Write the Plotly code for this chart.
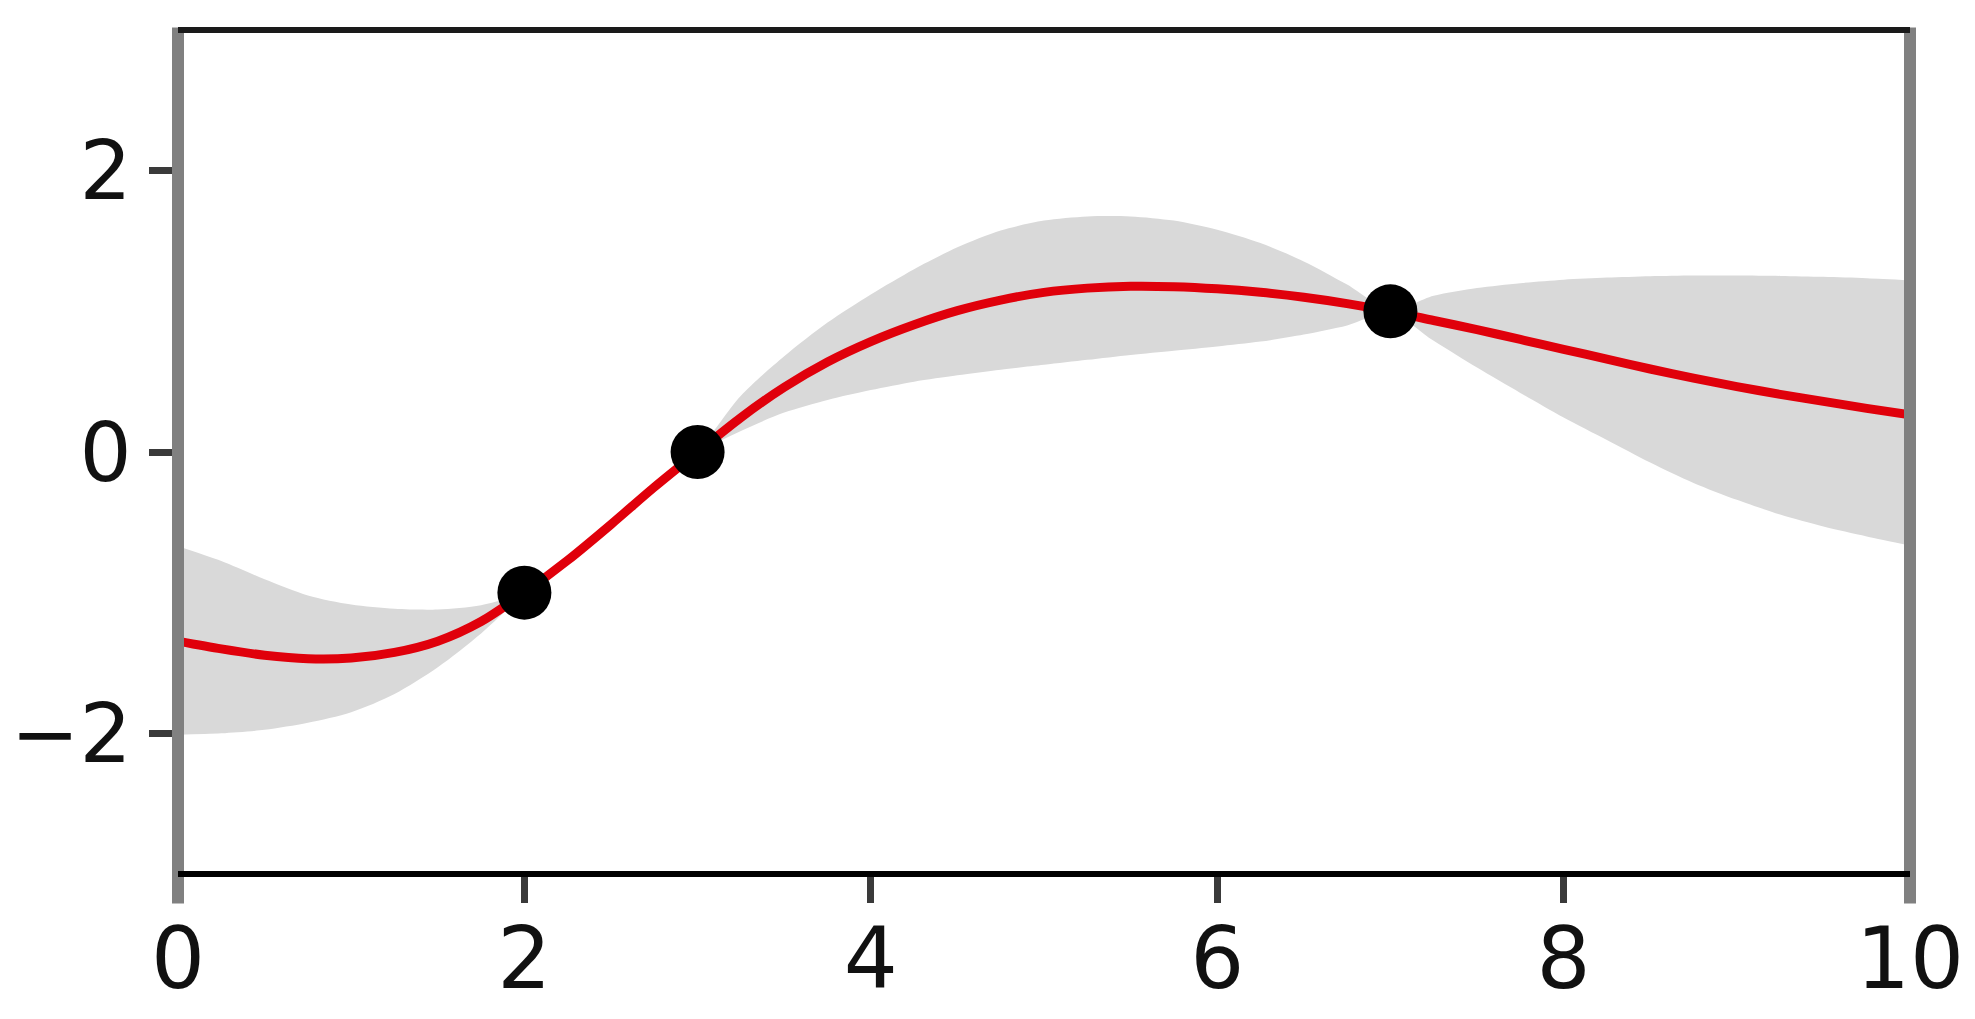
import plotly.graph_objects as go

# Values
x_grid = [0.0, 0.25, 0.5, 0.75, 1.0, 1.25, 1.5, 1.75, 2.0, 2.25, 2.5, 2.75, 3.0, 3.25, 3.5, 3.75,
          4.0, 4.25, 4.5, 4.75, 5.0, 5.25, 5.5, 5.75, 6.0, 6.25, 6.5, 6.75, 7.0, 7.25, 7.5, 7.75,
          8.0, 8.25, 8.5, 8.75, 9.0, 9.25, 9.5, 9.75, 10.0]
mean_vals = [-1.345, -1.40, -1.445, -1.47, -1.465, -1.425, -1.345, -1.205, -1.0, -0.77, -0.515,
             -0.25, 0.0, 0.245, 0.46, 0.64, 0.785, 0.905, 1.005, 1.08, 1.135, 1.165, 1.178, 1.175,
             1.16, 1.135, 1.10, 1.055, 1.0, 0.935, 0.87, 0.80, 0.73, 0.66, 0.59, 0.525, 0.465,
             0.41, 0.36, 0.31, 0.265]
upper_vals = [-0.67, -0.775, -0.905, -1.02, -1.085, -1.115, -1.12, -1.09, -0.99, -0.745, -0.49,
              -0.225, 0.01, 0.40, 0.68, 0.92, 1.12, 1.30, 1.455, 1.575, 1.645, 1.675, 1.675, 1.645,
              1.58, 1.485, 1.355, 1.19, 1.01, 1.11, 1.165, 1.20, 1.225, 1.24, 1.25, 1.255, 1.255,
              1.252, 1.245, 1.235, 1.22]
lower_vals = [-2.01, -2.0, -1.975, -1.925, -1.85, -1.72, -1.53, -1.29, -1.01, -0.795, -0.54,
              -0.275, -0.01, 0.15, 0.28, 0.37, 0.44, 0.50, 0.545, 0.585, 0.62, 0.655, 0.69, 0.72,
              0.75, 0.785, 0.835, 0.90, 0.99, 0.79, 0.60, 0.42, 0.245, 0.085, -0.075, -0.22,
              -0.34, -0.445, -0.53, -0.60, -0.665]
obs_x = [2, 3, 7]
obs_y = [-1, 0, 1]

x_ticks = [0, 2, 4, 6, 8, 10]
x_tick_labels = ["0", "2", "4", "6", "8", "10"]
y_ticks = [-2, 0, 2]
y_tick_labels = ["\u22122", "0", "2"]

fig = go.Figure()
fig.add_trace(go.Scatter(x=x_grid, y=lower_vals, mode="lines",
                         line=dict(width=0, shape="spline", smoothing=0.8),
                         hoverinfo="skip", showlegend=False))
fig.add_trace(go.Scatter(x=x_grid, y=upper_vals, mode="lines",
                         line=dict(width=0, shape="spline", smoothing=0.8),
                         fill="tonexty", fillcolor="#d9d9d9", hoverinfo="skip", showlegend=False))
fig.add_trace(go.Scatter(x=x_grid, y=mean_vals, mode="lines",
                         line=dict(color="#e0000b", width=9, shape="spline", smoothing=0.8),
                         showlegend=False))
fig.add_trace(go.Scatter(x=obs_x, y=obs_y, mode="markers",
                         marker=dict(color="black", size=54, line=dict(width=0)), showlegend=False))

xfont = dict(family="DejaVu Sans", size=85, color="#111111")
yfont = dict(family="DejaVu Sans", size=82, color="#111111")
fig.update_xaxes(range=[0, 10], tickvals=x_ticks, ticktext=x_tick_labels, ticks="outside",
                 ticklen=28, tickwidth=7, tickcolor="#3a3a3a", showgrid=False, zeroline=False,
                 showline=False, tickfont=xfont, automargin=False, ticklabelstandoff=-17)
fig.update_yaxes(range=[-3, 3], tickvals=y_ticks, ticktext=y_tick_labels, ticks="outside",
                 ticklen=28, tickwidth=7, tickcolor="#3a3a3a", showgrid=False, zeroline=False,
                 showline=False, tickfont=yfont, automargin=False, ticklabelstandoff=1)

spine_shapes = [
    dict(type="line", xref="paper", yref="paper", x0=0, x1=0, y0=-0.035, y1=1.003,
         line=dict(color="#808080", width=12), layer="above"),
    dict(type="line", xref="paper", yref="paper", x0=1, x1=1, y0=-0.035, y1=1.003,
         line=dict(color="#808080", width=12), layer="above"),
    dict(type="line", xref="paper", yref="paper", x0=0, x1=1, y0=1, y1=1,
         line=dict(color="#1a1a1a", width=6), layer="above"),
    dict(type="line", xref="paper", yref="paper", x0=0, x1=1, y0=0, y1=0,
         line=dict(color="#000000", width=6), layer="above"),
]
fig.update_layout(
    width=1975, height=1019,
    margin=dict(l=170, r=73, t=22, b=153),
    paper_bgcolor="white", plot_bgcolor="white",
    shapes=spine_shapes,
    showlegend=False,
)
fig.write_html("out.html")
